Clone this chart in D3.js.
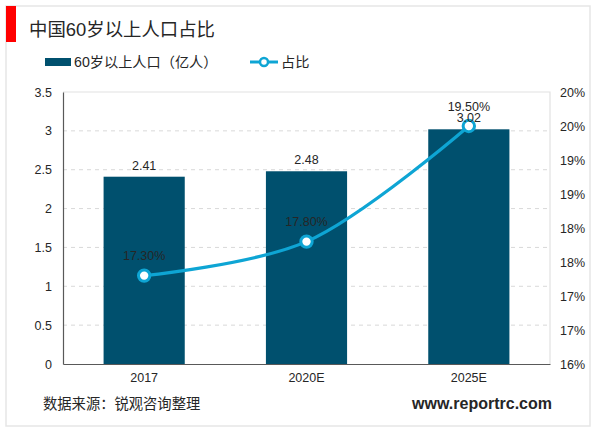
<!DOCTYPE html>
<html>
<head>
<meta charset="utf-8">
<script src="https://cdn.jsdelivr.net/npm/d3@7"></script>
<style>
html, body { margin: 0; padding: 0; background: #fff; }
svg { display: block; }
text { font-family: "Liberation Sans", "Noto Sans CJK SC", sans-serif; fill: #262626; }
</style>
</head>
<body>
<svg id="chart" width="600" height="433"></svg>
<script>
var categories = ["2017", "2020E", "2025E"];
var population = [2.41, 2.48, 3.02];
var share = [17.3, 17.8, 19.5];
var leftTicks = [0, 0.5, 1, 1.5, 2, 2.5, 3, 3.5];
var rightTicks = [16, 16.5, 17, 17.5, 18, 18.5, 19, 19.5, 20];
var rightLabels = ["16%", "17%", "17%", "18%", "18%", "19%", "19%", "20%", "20%"];
var shareLabels = ["17.30%", "17.80%", "19.50%"];

var svg = d3.select("#chart");
var left = 63, right = 550, top_ = 92, bottom = 364;

var x = d3.scaleBand().domain(categories).range([left, right]).paddingInner(0.5).paddingOuter(0.25);
var yLeft = d3.scaleLinear().domain([0, 3.5]).range([bottom, top_]);
var yRight = d3.scaleLinear().domain([16, 20]).range([bottom, top_]);

// outer frame and red tab
svg.append("rect").attr("x", 6).attr("y", 6).attr("width", 584).attr("height", 420)
    .attr("fill", "#fff").attr("stroke", "#e6e6e6").attr("stroke-width", 1.5);
svg.append("rect").attr("x", 6).attr("y", 6).attr("width", 10).attr("height", 36).attr("fill", "#ff0000");

svg.append("text").attr("x", 29).attr("y", 36).attr("font-size", 18.4).text("中国60岁以上人口占比");

// legend
svg.append("rect").attr("x", 45).attr("y", 58).attr("width", 26).attr("height", 8).attr("fill", "#00506e");
svg.append("text").attr("x", 74).attr("y", 67).attr("font-size", 14.2).text("60岁以上人口（亿人）");
svg.append("line").attr("x1", 250).attr("x2", 278).attr("y1", 62).attr("y2", 62)
    .attr("stroke", "#0ea5d4").attr("stroke-width", 3);
svg.append("circle").attr("cx", 264).attr("cy", 62).attr("r", 4)
    .attr("fill", "#fff").attr("stroke", "#0ea5d4").attr("stroke-width", 2.5);
svg.append("text").attr("x", 281).attr("y", 67).attr("font-size", 14.2).text("占比");

// grid follows the left axis
svg.selectAll(".grid").data(leftTicks.slice(1, -1)).enter().append("line")
    .attr("x1", left).attr("x2", right)
    .attr("y1", function(d){ return yLeft(d); })
    .attr("y2", function(d){ return yLeft(d); })
    .attr("stroke", "#d9d9d9").attr("stroke-dasharray", "4,4");
svg.append("path")
    .attr("d", "M" + left + "," + top_ + "H" + right + "V" + bottom)
    .attr("fill", "none").attr("stroke", "#e2e2e2").attr("stroke-width", 1.2);

// bars
svg.selectAll(".bar").data(population).enter().append("rect")
    .attr("x", function(d, i){ return x(categories[i]); })
    .attr("y", function(d){ return yLeft(d); })
    .attr("width", x.bandwidth())
    .attr("height", function(d){ return bottom - yLeft(d); })
    .attr("fill", "#00506e");

// axes
var axisLeft = d3.axisLeft(yLeft).tickValues(leftTicks).tickSize(0).tickPadding(11)
    .tickFormat(function(d){ return d; });
var gl = svg.append("g").attr("transform", "translate(" + left + ",0)").call(axisLeft);
gl.select(".domain").attr("stroke", "#595959").attr("stroke-width", 1.2);

var axisRight = d3.axisRight(yRight).tickValues(rightTicks).tickSize(0).tickPadding(10)
    .tickFormat(function(d, i){ return rightLabels[i]; });
var gr = svg.append("g").attr("transform", "translate(" + right + ",0)").call(axisRight);
gr.select(".domain").remove();

var axisBottom = d3.axisBottom(x).tickSize(0).tickPadding(9);
var gb = svg.append("g").attr("transform", "translate(0," + bottom + ")").call(axisBottom);
gb.select(".domain").attr("stroke", "#595959").attr("stroke-width", 1.2);

svg.selectAll("g.tick text").attr("font-size", 12.5).attr("fill", "#262626")
    .style("font-family", '"Liberation Sans", sans-serif');

// line
var line = d3.line()
    .x(function(d, i){ return x(categories[i]) + x.bandwidth() / 2; })
    .y(function(d){ return yRight(d); })
    .curve(d3.curveCatmullRom);
svg.append("path").datum(share).attr("d", line)
    .attr("fill", "none").attr("stroke", "#0ea5d4").attr("stroke-width", 3.2);
svg.selectAll(".dot").data(share).enter().append("circle")
    .attr("cx", function(d, i){ return x(categories[i]) + x.bandwidth() / 2; })
    .attr("cy", function(d){ return yRight(d); })
    .attr("r", 5.7)
    .attr("fill", "#fff").attr("stroke", "#0ea5d4").attr("stroke-width", 3);

// value labels
svg.selectAll(".barlabel").data(population).enter().append("text")
    .attr("x", function(d, i){ return x(categories[i]) + x.bandwidth() / 2; })
    .attr("y", function(d){ return yLeft(d) - 7; })
    .attr("text-anchor", "middle").attr("font-size", 12.5)
    .text(function(d){ return d; });
svg.selectAll(".sharelabel").data(share).enter().append("text")
    .attr("x", function(d, i){ return x(categories[i]) + x.bandwidth() / 2; })
    .attr("y", function(d){ return yRight(d) - 15.5; })
    .attr("text-anchor", "middle").attr("font-size", 12.5)
    .text(function(d, i){ return shareLabels[i]; });

// footer
svg.append("text").attr("x", 43).attr("y", 409).attr("font-size", 14.3).text("数据来源：锐观咨询整理");
svg.append("text").attr("x", 552).attr("y", 409).attr("text-anchor", "end")
    .attr("font-size", 16).attr("font-weight", "bold").attr("fill", "#111").text("www.reportrc.com");
</script>
</body>
</html>
